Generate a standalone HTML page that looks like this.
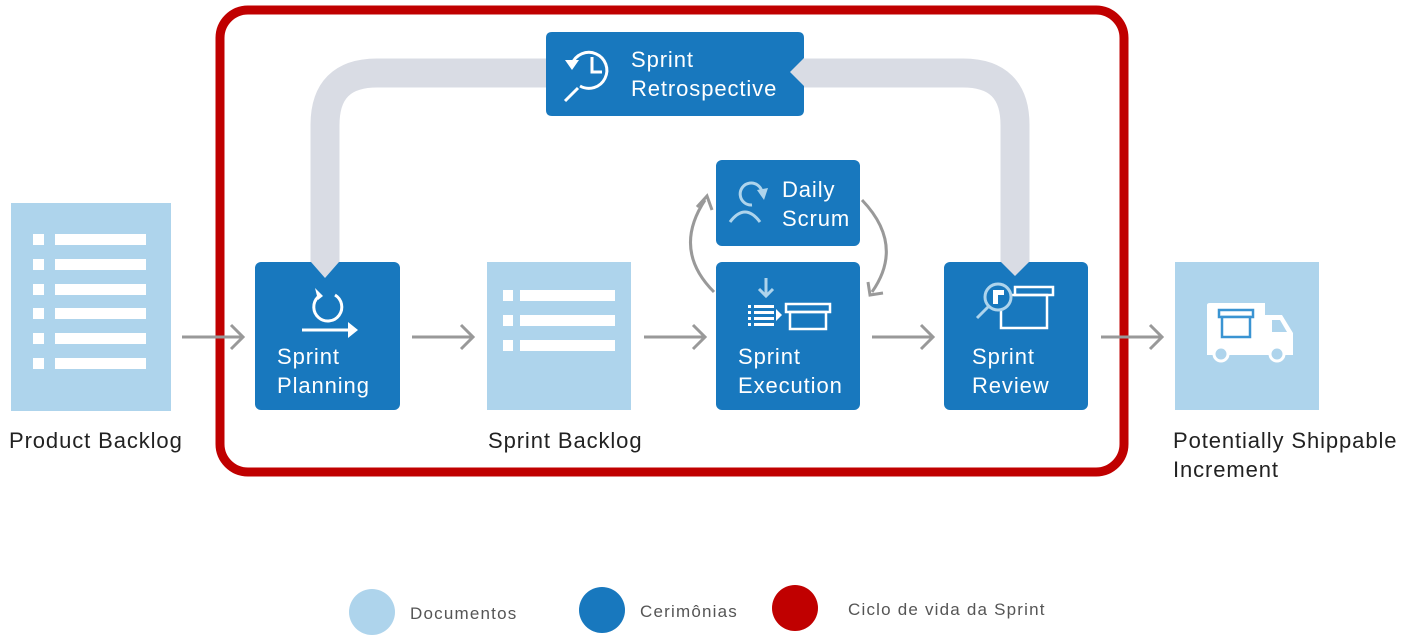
<!DOCTYPE html>
<html><head><meta charset="utf-8"><style>
html,body{margin:0;padding:0;background:#fff;}
svg{display:block;font-family:"Liberation Sans",sans-serif;}
.t{letter-spacing:0.9px;}
.l{letter-spacing:1.2px;}
</style></head><body>
<svg width="1407" height="637" viewBox="0 0 1407 637" xmlns="http://www.w3.org/2000/svg">
<path d="M325,265 V125 Q325,73 377,73 H963 Q1015,73 1015,125 V265" fill="none" stroke="#d9dce4" stroke-width="29"/>
<rect x="220" y="10" width="904" height="462" rx="28" fill="none" stroke="#c00000" stroke-width="9"/>

<rect x="11" y="203" width="160" height="208" fill="#aed4ec"/>
<g fill="#fff">
<rect x="33" y="234" width="11" height="11"/><rect x="55" y="234" width="91" height="11"/>
<rect x="33" y="259" width="11" height="11"/><rect x="55" y="259" width="91" height="11"/>
<rect x="33" y="284" width="11" height="11"/><rect x="55" y="284" width="91" height="11"/>
<rect x="33" y="308" width="11" height="11"/><rect x="55" y="308" width="91" height="11"/>
<rect x="33" y="333" width="11" height="11"/><rect x="55" y="333" width="91" height="11"/>
<rect x="33" y="358" width="11" height="11"/><rect x="55" y="358" width="91" height="11"/>
</g>
<text class="t" x="9" y="448" font-size="22" fill="#222">Product Backlog</text>

<g stroke="#999" stroke-width="3" fill="none">
<path d="M182,337 H243 M231,325 L243,337 L231,349"/>
<path d="M412,337 H473 M461,325 L473,337 L461,349"/>
<path d="M644,337 H705 M693,325 L705,337 L693,349"/>
<path d="M872,337 H933 M921,325 L933,337 L921,349"/>
<path d="M1101,337 H1162 M1150,325 L1162,337 L1150,349"/>
<path d="M714,292 Q672,250 705,200"/>
<path d="M697,207 L707,196 L712,210"/>
<path d="M862,200 Q905,245 872,292"/>
<path d="M868,282 L870,295 L883,293"/>
</g>

<rect x="255" y="262" width="145" height="148" rx="6" fill="#1878be"/>
<path d="M311,262 L325,278 L339,262 Z" fill="#d9dce4"/>
<g stroke="#fff" stroke-width="3" fill="none">
<path d="M318,297 A14,14 0 1 0 335,295"/>
<path d="M302,330 H350"/>
</g>
<path d="M315,288 L323,296 L318,300 Z" fill="#fff"/>
<path d="M348,322 L358,330 L348,338 Z" fill="#fff"/>
<text class="t" x="277" y="364" font-size="22" fill="#fff">Sprint</text>
<text class="t" x="277" y="393" font-size="22" fill="#fff">Planning</text>

<rect x="487" y="262" width="144" height="148" fill="#aed4ec"/>
<g fill="#fff">
<rect x="503" y="290" width="10" height="11"/><rect x="520" y="290" width="95" height="11"/>
<rect x="503" y="315" width="10" height="11"/><rect x="520" y="315" width="95" height="11"/>
<rect x="503" y="340" width="10" height="11"/><rect x="520" y="340" width="95" height="11"/>
</g>
<text class="t" x="488" y="448" font-size="22" fill="#222">Sprint Backlog</text>

<rect x="716" y="160" width="144" height="86" rx="6" fill="#1878be"/>
<g stroke="#aed4ec" stroke-width="3" fill="none">
<path d="M752,205 A11,11 0 1 1 762,192"/>
<path d="M730,222 Q745,202 760,222"/>
</g>
<path d="M757,190 L768,188 L764,200 Z" fill="#aed4ec"/>
<text class="t" x="782" y="197" font-size="22" fill="#fff">Daily</text>
<text class="t" x="782" y="226" font-size="22" fill="#fff">Scrum</text>

<rect x="716" y="262" width="144" height="148" rx="6" fill="#1878be"/>
<g fill="#fff">
<rect x="748" y="305" width="3" height="3"/><rect x="754" y="305" width="20" height="3"/>
<rect x="748" y="311" width="3" height="3"/><rect x="754" y="311" width="20" height="3"/>
<rect x="748" y="317" width="3" height="3"/><rect x="754" y="317" width="20" height="3"/>
<rect x="748" y="323" width="3" height="3"/><rect x="754" y="323" width="20" height="3"/>
<path d="M776,309 L782,315 L776,321 Z"/>
</g>
<path d="M766,278 V295 M759,289 L766,296 L773,289" stroke="#aed4ec" stroke-width="3" fill="none"/>
<g stroke="#fff" stroke-width="2.5" fill="none">
<rect x="786" y="304" width="44" height="8"/><rect x="790" y="312" width="36" height="17"/>
</g>
<text class="t" x="738" y="364" font-size="22" fill="#fff">Sprint</text>
<text class="t" x="738" y="393" font-size="22" fill="#fff">Execution</text>

<rect x="944" y="262" width="144" height="148" rx="6" fill="#1878be"/>
<path d="M1001,262 L1015,276 L1029,262 Z" fill="#d9dce4"/>
<g stroke="#fff" stroke-width="2.5" fill="none">
<rect x="1015" y="287" width="38" height="8"/><rect x="1001" y="295" width="46" height="33"/>
</g>
<circle cx="998" cy="297" r="13" fill="#1878be" stroke="#aed4ec" stroke-width="3"/>
<path d="M988,307 L977,318" stroke="#aed4ec" stroke-width="3"/>
<path d="M993,290 H1004 V295 H998 V304 H993 Z" fill="#fff"/>
<text class="t" x="972" y="364" font-size="22" fill="#fff">Sprint</text>
<text class="t" x="972" y="393" font-size="22" fill="#fff">Review</text>

<rect x="1175" y="262" width="144" height="148" fill="#aed4ec"/>
<path d="M1207,305 Q1207,303 1210,303 H1265 V355 H1207 Z" fill="#fff"/>
<path d="M1265,315 H1282 L1293,333 V355 H1265 Z" fill="#fff"/>
<path d="M1272,320 H1280 L1287,332 H1272 Z" fill="#aed4ec"/>
<rect x="1219" y="310" width="34" height="7" fill="#fff" stroke="#3a94d2" stroke-width="2.5"/>
<rect x="1222" y="317" width="28" height="20" fill="#fff" stroke="#3a94d2" stroke-width="2.5"/>
<circle cx="1221" cy="354" r="7" fill="#aed4ec" stroke="#fff" stroke-width="3"/>
<circle cx="1277" cy="354" r="7" fill="#aed4ec" stroke="#fff" stroke-width="3"/>
<text class="t" x="1173" y="448" font-size="22" fill="#222">Potentially Shippable</text>
<text class="t" x="1173" y="477" font-size="22" fill="#222">Increment</text>

<path d="M552,32 H798 Q804,32 804,38 V58 L790,72 L804,86 V110 Q804,116 798,116 H552 Q546,116 546,110 V38 Q546,32 552,32 Z" fill="#1878be"/>
<g stroke="#fff" stroke-width="3" fill="none">
<path d="M572,64 A18,18 0 1 1 580,86"/>
<path d="M592,57 V72 H602"/>
<path d="M578,88 L565,101"/>
</g>
<path d="M565,60 L579,60 L572,70 Z" fill="#fff"/>
<text class="t" x="631" y="67" font-size="22" fill="#fff">Sprint</text>
<text class="t" x="631" y="96" font-size="22" fill="#fff">Retrospective</text>

<ellipse cx="372" cy="612" rx="23" ry="23" fill="#aed4ec"/>
<text class="l" x="410" y="619" font-size="17" fill="#555">Documentos</text>
<ellipse cx="602" cy="610" rx="23" ry="23" fill="#1878be"/>
<text class="l" x="640" y="617" font-size="17" fill="#555">Cerimônias</text>
<ellipse cx="795" cy="608" rx="23" ry="23" fill="#c00000"/>
<text class="l" x="848" y="615" font-size="17" fill="#555">Ciclo de vida da Sprint</text>
</svg>
</body></html>
